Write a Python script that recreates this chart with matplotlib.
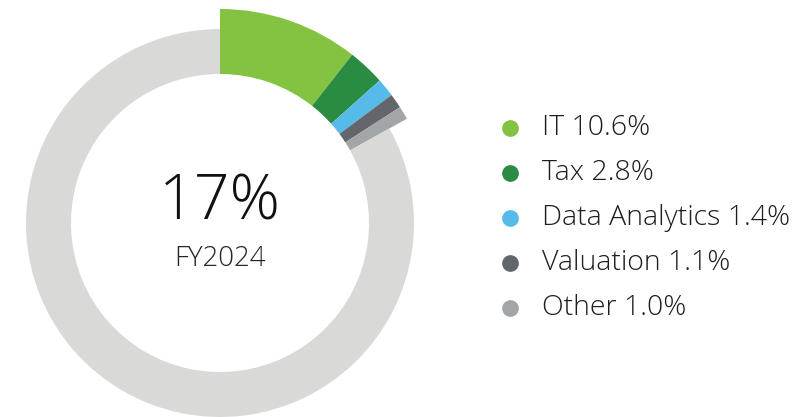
import matplotlib
matplotlib.use("Agg")
import matplotlib.pyplot as plt

# data
labels = ["IT", "Tax", "Data Analytics", "Valuation", "Other"]
values = [10.6, 2.8, 1.4, 1.1, 1.0]
colors = ["#84c341", "#2a8c43", "#56bbe8", "#63666a", "#a3a6a8"]
rest_color = "#d9d9d8"
total_label = "17%"
year_label = "FY2024"

plt.rcParams['font.family'] = ['Open Sans', 'DejaVu Sans']

fig = plt.figure(figsize=(8.04, 4.17), dpi=100)
ax = fig.add_axes([0, 0, 1, 1])

rest = 100 - sum(values)
vals = values + [rest]
cx, cy = 220, 417 - 223

# highlighted segments (bigger outer radius)
ax.pie(vals, colors=colors + ["none"], radius=214, center=(cx, cy),
       startangle=90, counterclock=False,
       wedgeprops=dict(width=65, linewidth=0))
# remaining part of the ring
ax.pie(vals, colors=["none"] * len(values) + [rest_color], radius=194,
       center=(cx, cy), startangle=90, counterclock=False,
       wedgeprops=dict(width=45, linewidth=0))

ax.text(cx, 417 - 203, total_label, ha='center', va='center',
        fontsize=45, fontweight='light', color='#111111')
ax.text(cx, 417 - 259, year_label, ha='center', va='center',
        fontsize=20, fontweight='light', color='#262626')

# legend
y0 = 417 - 128
step = 45
for i, (lab, v, c) in enumerate(zip(labels, values, colors)):
    y = y0 - i * step
    ax.scatter([510], [y], s=145, color=c, linewidths=0)
    ax.text(542, y, f"{lab} {v:.1f}%", ha='left', va='center',
            fontsize=20.5, fontweight='light', color='#1e1e1e')

ax.set_xlim(0, 804)
ax.set_ylim(0, 417)
ax.set_aspect('equal')
ax.axis('off')

fig.savefig("out.png", dpi=100)
